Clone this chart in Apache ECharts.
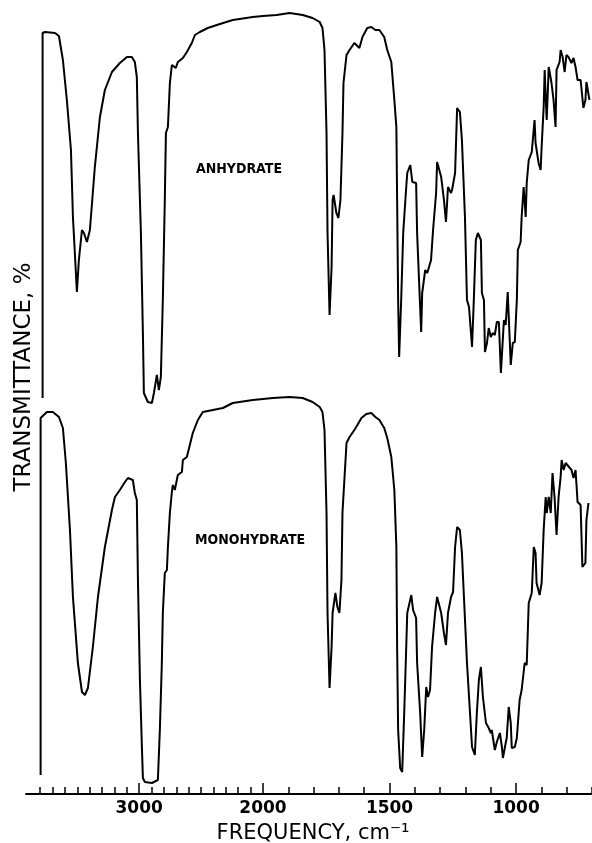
<!DOCTYPE html>
<html>
<head>
<meta charset="utf-8">
<script src="https://cdn.jsdelivr.net/npm/echarts@6/dist/echarts.min.js"></script>
<style>
html,body{margin:0;padding:0;background:#ffffff;}
#chart{width:592px;height:843px;}
</style>
</head>
<body>
<div id="chart"></div>
<script>
// ---- Data (frequency in cm-1, relative transmittance 0-100) ----
const anhydrateFreq = [3780,3780,3761,3680,3648,3616,3584,3551,3535,3511,3503,3487,3462,3446,3422,3398,3358,3317,3277,3220,3156,3099,3059,3035,3019,3010,2986,2970,2962,2930,2897,2881,2857,2841,2825,2809,2793,2784,2768,2752,2736,2720,2704,2688,2647,2615,2575,2550,2510,2446,2373,2244,2082,2000,
  1946,1895,1843,1804,1776,1765,1757,1749,1745,1737,1729,1725,1721,1710,1702,1694,1686,1682,1670,1658,1639,1619,1607,1588,1572,1556,1540,1521,1509,1493,1481,1473,1470,1466,1462,1454,1446,1434,1430,1418,1410,1395,1391,1383,1375,1371,1359,1351,1336,1328,1316,1312,1296,1285,1277,1269,1257,1253,1241,1233,1222,1214,1202,1194,1186,1174,1167,1159,1151,1139,1135,1127,1123,1115,1108,1100,1092,1084,1076,1068,1060,1048,1041,1033,1021,1013,1005,997,993,982,978,970,962,958,950,938,927,923,911,903,899,891,887,883,879,871,860,852,844,840,828,824,816,808,801,793,781,773,765,757,745,734,726,722,710];
const anhydrateT = [3,94.25,94.5,94.25,93.5,87.5,77.5,65,48.25,34.25,29.5,37.5,45,44.25,42,45,60.75,73.25,80,84.5,86.75,88.25,88.25,87,83.25,69.25,44.25,19.25,4.25,2,1.75,4.25,8.75,5,8.25,27.5,52.5,69.25,70.75,81.75,86.25,86.75,85.5,87,88,89.5,91.75,93.75,94.5,95.5,96.25,97.5,98.25,98.5,
  98.75,99.25,98.75,98,97,95.5,90,69.25,44.25,23.75,35.75,52.5,53.75,49.25,48,52.5,69.25,81.75,88.75,90,91.75,90.5,93.25,95.5,95.75,95,95,93.25,90,87,77.5,70.75,52.5,27.5,13.25,27.5,44.25,55.75,59.25,61.25,57,56.75,44.25,31.75,19.5,29.25,35,34.25,37.5,45,54.25,62,58.25,52.5,47,55.75,54.25,55,59.25,75.5,74.5,67.5,48.25,27.5,25.75,15.75,27.5,42.5,44.25,42.5,29.25,27.5,14.5,16.75,20.5,18.25,19.25,18.75,22,22,9.25,22.5,21.25,29.5,11.25,16.75,17,27.5,40,42,48.25,55.75,48.25,56.75,62.5,64.5,72.5,66.75,61.75,60,65.75,75.75,85,78.25,72.5,85.75,81.75,77.5,70.75,85,87,90,88.25,84.5,88.75,88.25,86.75,88,85.75,82.5,82.5,75.5,77.5,82,77.5];

const monohydrateFreq = [3796,3796,3785,3745,3697,3648,3616,3592,3559,3535,3495,3462,3438,3414,3374,3333,3277,3220,3196,3156,3115,3091,3051,3035,3019,3010,2994,2978,2970,2954,2897,2849,2833,2817,2809,2793,2776,2768,2752,2736,2728,2712,2696,2688,2655,2647,2615,2591,2567,2526,2486,2405,2324,2244,2082,2000,
  1961,1895,1843,1804,1776,1765,1757,1749,1745,1737,1729,1725,1714,1706,1698,1690,1686,1670,1658,1639,1627,1611,1592,1572,1556,1540,1521,1509,1493,1481,1473,1470,1466,1458,1450,1442,1434,1430,1414,1407,1395,1391,1379,1371,1363,1355,1348,1340,1332,1320,1312,1296,1285,1277,1269,1257,1249,1241,1233,1222,1214,1206,1194,1182,1174,1163,1155,1147,1139,1131,1119,1108,1100,1096,1084,1076,1064,1056,1052,1041,1037,1029,1021,1017,1005,997,986,978,966,958,950,938,930,923,919,907,899,891,883,879,871,863,856,848,840,832,824,820,812,804,797,781,773,765,757,745,738,726,722,714];
const monohydrateT = [4.75,94,94,95.5,95.5,94.25,91.5,82.75,66,49.25,32.75,25.5,24.75,26.5,36.75,49.25,61.75,71,74.25,76,78,79,78.5,75.25,73.5,53.5,28.5,11.75,4,3,2.75,3.5,16,32.75,45.25,55.25,56,61.75,70.25,75.5,77.25,76,78.5,79.75,80.5,83.5,84.25,87.25,90.25,93.5,95.5,96,96.5,97.75,98.5,98.75,
  99,99.25,99,98,96.75,95.5,91,70.25,45.25,26.5,36.75,45.25,50.25,46.75,45.25,53.5,70.25,87.75,89.25,91,92.25,94,95,95.25,94.25,93.5,91.5,89,84.25,76,61.75,36.75,16,6.5,5.5,20.25,36.75,45.25,49.75,46,44,32.75,20.25,9.25,16,26.75,24.25,26,36.75,45.25,49.25,45.25,40.25,37.25,45.25,49.25,50.5,61.75,66.75,66,60.25,49.25,32.75,20.25,11.75,9.75,20.25,28.5,31.75,24.25,17.75,16.5,15.25,16,11,13,15.25,11.75,9,12.75,14,21.75,17.75,11.5,11.75,14,23.5,26,32.75,32.25,47.75,50.25,61.75,60.25,52.75,49.75,52.75,66,74.25,70.25,74.25,70.25,80.25,74.25,64.75,74.25,79.25,83.5,81,82.75,82.25,81,79,81,73,72.25,56.75,57.75,68.5,72.75];

// ---- Axis ticks / labels ----
const minorTicksHigh = [3800,3700,3600,3500,3400,3300,3200,3100,3000,2900,2800,2700,2600,2500,2400,2300,2200,2100,2000];
const minorTicksLow = [2000,1900,1800,1700,1600,1500,1400,1300,1200,1100,1000,900,800,700];
const majorTicksHigh = [3000,2000];
const majorTicksLow = [1500,1000];
const sampleNames = ['ANHYDRATE','MONOHYDRATE'];
const xTitle = 'FREQUENCY, cm\u207B\u00B9';
const yTitle = 'TRANSMITTANCE, %';

// ---- Layout ----
const HIGH = {min: 2000, max: 3914};
const LOW = {min: 700, max: 2000};
const colL = {left: 26, width: 237};
const colR = {left: 263, width: 330};
const rowTop = {top: 10, height: 400};
const rowBot = {top: 394, height: 400};

function pairs(freq, t, filt) {
  const out = [];
  for (let i = 0; i < freq.length; i++) if (filt(freq[i])) out.push([freq[i], t[i]]);
  return out;
}

const lineStyle = {color: '#000', width: 2};
const tickFont = {fontFamily: '"DejaVu Sans", sans-serif', fontWeight: 'bold', fontSize: 17, color: '#000'};

function hiddenX(gi, r) {
  return {type: 'value', gridIndex: gi, min: r.min, max: r.max, inverse: true, show: false};
}
function minorX(gi, r, ticks) {
  return {type: 'value', gridIndex: gi, min: r.min, max: r.max, inverse: true, position: 'bottom',
    axisLine: {show: true, onZero: false, lineStyle: {color: '#000', width: 2}},
    axisTick: {show: true, inside: true, length: 7, customValues: ticks, lineStyle: {color: '#000', width: 1.5}},
    axisLabel: {show: false}, splitLine: {show: false}};
}
function majorX(gi, r, ticks) {
  return {type: 'value', gridIndex: gi, min: r.min, max: r.max, inverse: true, position: 'bottom',
    axisLine: {show: false, onZero: false},
    axisTick: {show: true, inside: true, length: 11, customValues: ticks, lineStyle: {color: '#000', width: 1.5}},
    axisLabel: Object.assign({show: true, margin: 6, customValues: ticks, showMinLabel: true, showMaxLabel: true,
      formatter: function (v) { return String(v); }}, tickFont),
    splitLine: {show: false}};
}
function hiddenY(gi) {
  return {type: 'value', gridIndex: gi, min: 0, max: 100, show: false};
}

const chart = echarts.init(document.getElementById('chart'), null, {renderer: 'canvas'});
chart.setOption({
  animation: false,
  backgroundColor: '#ffffff',
  grid: [
    Object.assign({}, colL, rowTop),
    Object.assign({}, colR, rowTop),
    Object.assign({}, colL, rowBot),
    Object.assign({}, colR, rowBot)
  ],
  xAxis: [
    hiddenX(0, HIGH), hiddenX(1, LOW),
    minorX(2, HIGH, minorTicksHigh), minorX(3, LOW, minorTicksLow),
    majorX(2, HIGH, majorTicksHigh), majorX(3, LOW, majorTicksLow)
  ],
  yAxis: [hiddenY(0), hiddenY(1), hiddenY(2), hiddenY(3)],
  series: [
    {type: 'line', name: sampleNames[0], xAxisIndex: 0, yAxisIndex: 0, showSymbol: false, lineStyle: lineStyle,
     data: pairs(anhydrateFreq, anhydrateT, f => f >= 2000)},
    {type: 'line', name: sampleNames[0], xAxisIndex: 1, yAxisIndex: 1, showSymbol: false, lineStyle: lineStyle,
     data: pairs(anhydrateFreq, anhydrateT, f => f <= 2000)},
    {type: 'line', name: sampleNames[1], xAxisIndex: 2, yAxisIndex: 2, showSymbol: false, lineStyle: lineStyle,
     data: pairs(monohydrateFreq, monohydrateT, f => f >= 2000)},
    {type: 'line', name: sampleNames[1], xAxisIndex: 3, yAxisIndex: 3, showSymbol: false, lineStyle: lineStyle,
     data: pairs(monohydrateFreq, monohydrateT, f => f <= 2000)}
  ],
  graphic: [
    {type: 'text', x: 239, y: 169, style: {text: sampleNames[0], fill: '#000', fontSize: 14, fontWeight: 'bold',
      fontFamily: '"DejaVu Sans Condensed", "Liberation Sans Narrow", sans-serif', align: 'center', verticalAlign: 'middle'}},
    {type: 'text', x: 250, y: 540, style: {text: sampleNames[1], fill: '#000', fontSize: 14, fontWeight: 'bold',
      fontFamily: '"DejaVu Sans Condensed", "Liberation Sans Narrow", sans-serif', align: 'center', verticalAlign: 'middle'}},
    {type: 'text', x: 313, y: 834, style: {text: xTitle, fill: '#000', fontSize: 21,
      fontFamily: '"DejaVu Sans", sans-serif', align: 'center', verticalAlign: 'middle'}},
    {type: 'text', x: 24, y: 377, rotation: Math.PI / 2, style: {text: yTitle, fill: '#000', fontSize: 23,
      fontFamily: '"DejaVu Sans", sans-serif', align: 'center', verticalAlign: 'middle'}}
  ]
});
</script>
</body>
</html>
